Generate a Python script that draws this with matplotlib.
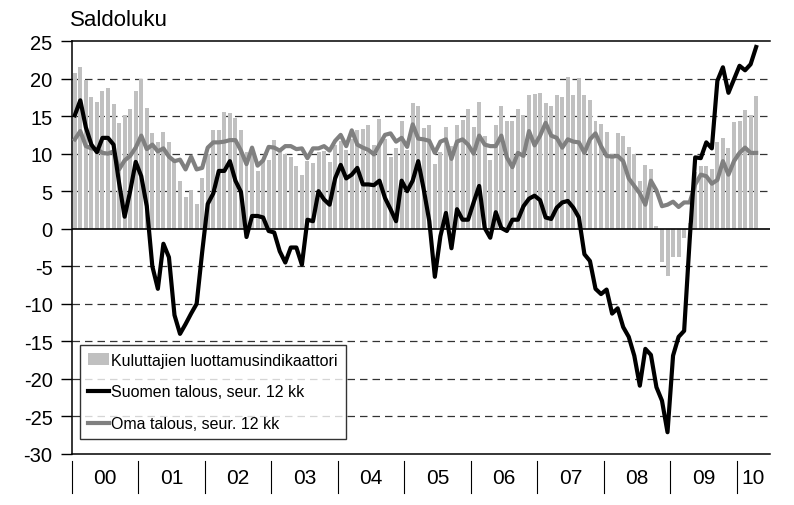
import numpy as np
import matplotlib.pyplot as plt
import matplotlib.transforms as mtransforms

plt.rcParams['font.family'] = ['Liberation Sans', 'DejaVu Sans']
plt.rcParams['axes.unicode_minus'] = False

# monthly data, Jan 2000 - Apr 2010
luottamus = [20.7, 21.6, 19.8, 17.5, 16.9, 18.4, 18.7, 16.6, 14.1, 15.2, 16.0, 18.4,
             19.9, 16.1, 12.8, 11.5, 12.9, 11.5, 9.2, 6.4, 4.2, 5.1, 3.3, 6.7,
             10.0, 13.2, 13.2, 15.5, 15.4, 14.7, 13.2, 10.2, 10.5, 7.7, 9.2, 9.2,
             11.8, 10.6, 10.0, 9.5, 8.4, 7.1, 9.0, 8.8, 10.2, 10.4, 8.9, 11.2,
             11.7, 10.5, 12.0, 13.2, 13.3, 13.8, 11.2, 14.6, 12.0, 9.5, 10.7, 14.4,
             10.5, 16.7, 16.3, 13.4, 13.8, 8.6, 10.2, 13.5, 11.0, 13.8, 14.5, 16.0,
             13.6, 16.9, 12.4, 9.2, 13.8, 16.4, 14.3, 14.3, 16.0, 15.1, 17.8, 18.0,
             18.1, 16.7, 16.3, 17.8, 17.6, 20.2, 17.8, 20.1, 17.8, 17.2, 14.4, 13.9,
             12.9, 10.0, 12.7, 12.4, 10.9, 10.0, 6.4, 8.5, 7.9, 0.3, -4.4, -6.3,
             -3.8, -3.8, -1.3, 0.8, 7.5, 8.3, 8.3, 8.0, 11.5, 12.1, 10.7, 14.2,
             14.3, 15.8, 15.2, 17.7]

suomen_talous = [15.1, 17.1, 13.5, 11.2, 10.2, 12.1, 12.1, 11.2, 6.1, 1.6, 5.0, 8.9,
                 7.0, 3.0, -5.0, -8.0, -2.0, -3.8, -11.5, -14.0, -12.7, -11.3, -10.0, -3.1,
                 3.3, 4.7, 7.7, 7.7, 9.0, 6.4, 4.9, -1.1, 1.7, 1.7, 1.5, -0.3,
                 -0.5, -3.0, -4.5, -2.5, -2.5, -4.8, 1.2, 1.0, 5.0, 3.9, 3.2, 6.7,
                 8.5, 6.7, 7.2, 8.1, 5.9, 5.9, 5.8, 6.4, 4.1, 2.6, 1.0, 6.4,
                 5.0, 6.4, 9.0, 5.2, 1.0, -6.4, -1.0, 2.1, -2.6, 2.6, 1.2, 1.2,
                 3.5, 5.7, 0.1, -1.2, 2.2, 0.1, -0.3, 1.2, 1.2, 3.0, 4.0, 4.4,
                 3.8, 1.5, 1.3, 2.8, 3.5, 3.7, 2.8, 1.5, -3.4, -4.3, -8.0, -8.7,
                 -8.1, -11.3, -10.6, -13.1, -14.4, -16.9, -20.9, -16.0, -16.8, -21.1, -22.9, -27.1,
                 -16.9, -14.4, -13.6, -1.5, 9.5, 9.4, 11.5, 10.7, 19.7, 21.5, 18.1, 19.9,
                 21.7, 21.1, 21.9, 24.2]

oma_talous = [11.9, 13.0, 11.0, 10.7, 10.6, 10.1, 10.0, 10.3, 7.9, 9.1, 9.7, 10.8,
              12.4, 10.6, 11.2, 10.3, 10.7, 9.6, 9.0, 9.2, 7.9, 9.6, 7.9, 8.1,
              10.8, 11.5, 11.5, 11.6, 11.8, 11.8, 10.4, 8.6, 10.8, 8.4, 9.1, 10.9,
              10.8, 10.4, 11.0, 11.0, 10.6, 10.7, 9.4, 10.7, 10.7, 11.0, 10.4, 11.7,
              12.5, 11.0, 13.1, 11.2, 10.8, 10.5, 9.9, 11.2, 12.5, 12.7, 11.6, 12.1,
              10.9, 13.9, 12.0, 11.9, 11.7, 10.1, 11.6, 11.9, 9.3, 11.6, 11.9, 11.2,
              10.0, 12.4, 11.2, 11.0, 11.0, 12.4, 9.5, 8.2, 10.1, 9.7, 13.0, 11.1,
              12.4, 14.1, 12.4, 12.1, 10.8, 11.9, 11.6, 11.5, 10.1, 11.9, 12.7, 11.0,
              9.7, 9.6, 9.7, 9.0, 6.7, 5.7, 4.7, 3.2, 6.4, 5.1, 3.0, 3.2,
              3.6, 2.9, 3.5, 3.5, 5.9, 7.2, 7.0, 6.0, 6.5, 9.0, 7.2, 9.0,
              10.1, 10.8, 10.1, 10.1]

years = ["00", "01", "02", "03", "04", "05", "06", "07", "08", "09", "10"]
n_months = 126  # axis runs to Jun 2010

months = np.arange(len(luottamus))

fig = plt.figure(figsize=(7.94, 5.06), dpi=100)
ax = fig.add_axes([72 / 794, 51 / 506, 698 / 794, 413 / 506])

bars = ax.bar(months, luottamus, width=0.72, color='#c0c0c0', zorder=2,
              label='Kuluttajien luottamusindikaattori')
l1, = ax.plot(months, suomen_talous, color='black', lw=3, zorder=4,
              label='Suomen talous, seur. 12 kk')
l2, = ax.plot(months, oma_talous, color='#808080', lw=3, zorder=3,
              label='Oma talous, seur. 12 kk')

for v in range(-25, 25, 5):
    if v != 0:
        ax.axhline(v, color='#333333', lw=0.9, ls=(0, (6, 4)), zorder=1)
ax.axhline(0, color='black', lw=1.2, zorder=5)

ax.set_xlim(-0.5, n_months - 0.5)
ax.set_ylim(-30, 25)
ax.set_yticks(range(-30, 26, 5))
ax.tick_params(axis='y', direction='out', length=8, width=1, labelsize=14.5, pad=6)
ax.set_xticks([])
ax.spines['right'].set_visible(False)
for s in ['top', 'left', 'bottom']:
    ax.spines[s].set_linewidth(1.1)

# year separators and labels below the axis
trans = mtransforms.blended_transform_factory(ax.transData, ax.transAxes)
for k, y in enumerate(years):
    start = -0.5 + 12 * k
    end = min(start + 12, n_months - 0.5)
    ax.plot([start, start], [-0.018, -0.094], color='black', lw=0.8,
            transform=trans, clip_on=False)
    ax.text((start + end) / 2, -0.058, y, transform=trans, ha='center',
            va='center', fontsize=15)

leg = ax.legend([bars, l1, l2], [bars.get_label(), l1.get_label(), l2.get_label()],
                loc='lower left', bbox_to_anchor=(0.0115, 0.036), borderaxespad=0,
                fontsize=11.5, frameon=True, fancybox=False, edgecolor='black',
                handlelength=1.3, handletextpad=0.15, labelspacing=1.05, borderpad=0.5)
leg.get_frame().set_linewidth(1.0)
leg.set_zorder(10)

fig.text(70 / 794, 1 - 10 / 506, 'Saldoluku', ha='left', va='top', fontsize=16)

fig.savefig('out.png', dpi=100)
